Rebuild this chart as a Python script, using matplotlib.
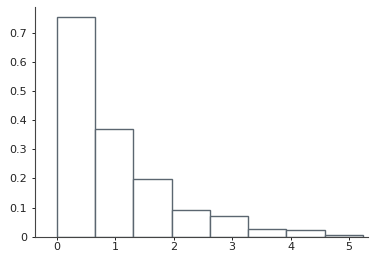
import matplotlib
matplotlib.use('Agg')
import matplotlib.pyplot as plt

# left edges of the bins and their heights
bin_left = [0, 0.655, 1.31, 1.965, 2.62, 3.275, 3.93, 4.585]
bin_width = 0.655
heights = [0.754, 0.371, 0.197, 0.091, 0.071, 0.025, 0.023, 0.005]

x_ticks = [0, 1, 2, 3, 4, 5]
y_ticks = [0, 0.1, 0.2, 0.3, 0.4, 0.5, 0.6, 0.7]
y_tick_labels = ['0', '0.1', '0.2', '0.3', '0.4', '0.5', '0.6', '0.7']

fig = plt.figure(figsize=(3.75, 2.54), dpi=100)
ax = fig.add_axes([0.0933, 0.068, 0.8872, 0.904])

ax.bar(bin_left, heights, width=bin_width, align='edge',
       facecolor='white', edgecolor='#5b6670', linewidth=1.0)

ax.set_xlim(-0.37, 5.32)
ax.set_ylim(0, 0.788)
ax.set_xticks(x_ticks)
ax.set_yticks(y_ticks)
ax.set_yticklabels(y_tick_labels)

for s in ['top', 'right']:
    ax.spines[s].set_visible(False)
for s in ['left', 'bottom']:
    ax.spines[s].set_color('#444444')
    ax.spines[s].set_linewidth(0.8)

ax.tick_params(axis='both', labelsize=8, colors='#222222', length=2, width=0.7)
ax.tick_params(axis='y', pad=3.5)
ax.tick_params(axis='x', pad=1.5)

fig.savefig('out.png', dpi=100)
